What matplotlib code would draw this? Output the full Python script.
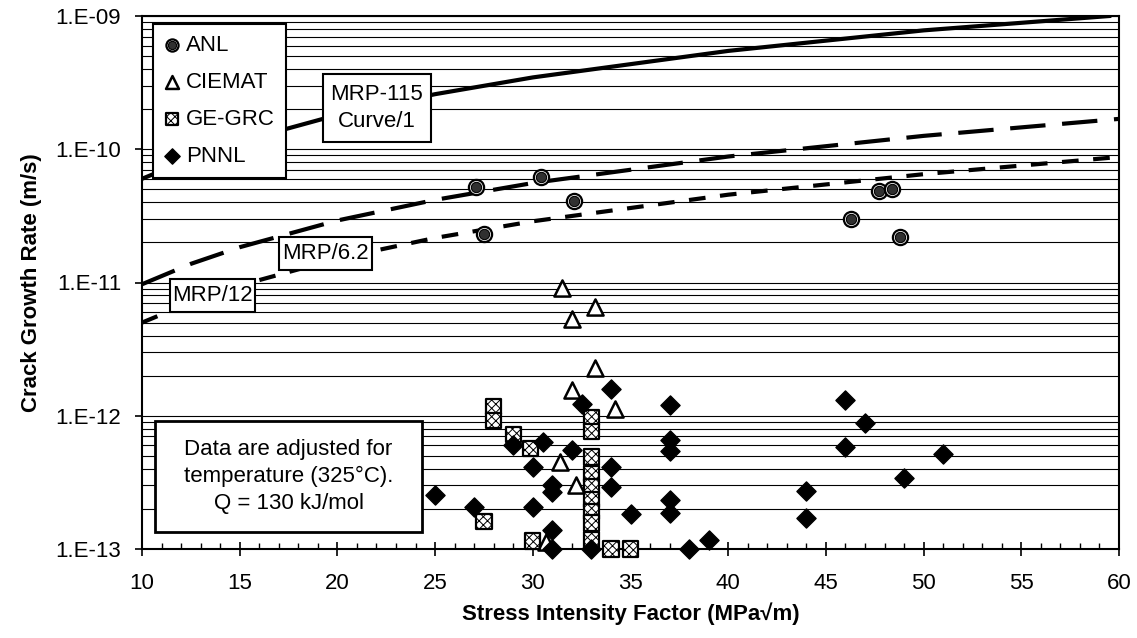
import numpy as np
import matplotlib.pyplot as plt
from matplotlib.patches import Rectangle
from matplotlib.legend_handler import HandlerTuple
from matplotlib.ticker import LogLocator, MultipleLocator, FuncFormatter, NullFormatter

plt.rcParams['font.family'] = ['Liberation Sans', 'DejaVu Sans']
plt.rcParams['hatch.linewidth'] = 0.7

# data points: stress intensity factor K (MPa√m) and crack growth rate (m/s)
anl_k = [27.1, 27.5, 30.4, 32.1, 46.3, 47.7, 48.4, 48.8]
anl_v = [5.2e-11, 2.3e-11, 6.2e-11, 4.1e-11, 3.0e-11, 4.9e-11, 5.0e-11, 2.2e-11]

ciemat_k = [31.5, 33.2, 32.0, 33.2, 32.0, 34.2, 31.4, 32.2, 30.7]
ciemat_v = [9.1e-12, 6.6e-12, 5.3e-12, 2.3e-12, 1.56e-12, 1.13e-12, 4.5e-13, 3.0e-13, 1.13e-13]

ge_k = [28.0, 28.0, 29.0, 29.9, 27.5, 30.0, 33.0, 33.0, 33.0, 33.0, 33.0,
        33.0, 33.0, 33.0, 33.0, 34.0, 35.0]
ge_v = [1.17e-12, 9.2e-13, 7.2e-13, 5.7e-13, 1.6e-13, 1.15e-13, 9.7e-13, 7.6e-13,
        4.9e-13, 3.7e-13, 2.94e-13, 2.36e-13, 1.91e-13, 1.57e-13, 1.17e-13, 1.0e-13, 1.0e-13]

pnnl_k = [25.0, 27.0, 29.0, 30.0, 30.0, 30.5, 31.0, 31.0, 31.0, 31.0, 32.0, 32.5,
          33.0, 34.0, 34.0, 34.0, 35.0, 37.0, 37.0, 37.0, 37.0, 37.0, 38.0, 39.0,
          44.0, 44.0, 46.0, 46.0, 47.0, 49.0, 51.0]
pnnl_v = [2.54e-13, 2.07e-13, 6.0e-13, 4.15e-13, 2.07e-13, 6.4e-13, 3.0e-13, 2.7e-13,
          1.39e-13, 1.0e-13, 5.5e-13, 1.22e-12, 1.0e-13, 1.58e-12, 4.15e-13, 2.94e-13,
          1.83e-13, 1.2e-12, 6.6e-13, 5.4e-13, 2.33e-13, 1.85e-13, 1.0e-13, 1.17e-13,
          2.71e-13, 1.72e-13, 1.31e-12, 5.86e-13, 8.77e-13, 3.43e-13, 5.16e-13]

# disposition curves
curve_k = [10, 12.5, 15, 20, 25, 30, 40, 50, 60]
mrp115_k = [10, 12.5, 15, 20, 25, 30, 40, 50, 59.5]
mrp115_v = [6.0e-11, 8.5e-11, 1.14e-10, 1.81e-10, 2.59e-10, 3.46e-10, 5.47e-10, 7.8e-10, 1.0e-9]
mrp62_v = [9.7e-12, 1.38e-11, 1.84e-11, 2.92e-11, 4.17e-11, 5.58e-11, 8.82e-11, 1.26e-10, 1.69e-10]
mrp12_v = [5.0e-12, 7.1e-12, 9.5e-12, 1.51e-11, 2.16e-11, 2.88e-11, 4.56e-11, 6.5e-11, 8.75e-11]

fig = plt.figure(figsize=(11.37, 6.38), dpi=100)
ax = fig.add_axes([142/1137, 1-549/638, 977/1137, 533/638])
ax.set_xlim(10, 60)
ax.set_yscale('log')
ax.set_ylim(1e-13, 1e-9)

# axes / ticks
ax.yaxis.set_major_locator(LogLocator(base=10, numticks=10))
ax.yaxis.set_minor_locator(LogLocator(base=10, subs=np.arange(2, 10), numticks=10))
ax.yaxis.set_minor_formatter(NullFormatter())
ax.yaxis.set_major_formatter(FuncFormatter(lambda v, p: '1.E-%02d' % round(-np.log10(v))))
ax.grid(True, which='both', axis='y', color='black', lw=0.8)
ax.set_axisbelow(True)
ax.tick_params(axis='y', which='minor', length=0)
ax.tick_params(axis='y', which='major', direction='out', length=5, width=1.2, pad=10, labelsize=16)
ax.xaxis.set_major_locator(MultipleLocator(5))
ax.xaxis.set_minor_locator(MultipleLocator(1))
ax.tick_params(axis='x', which='major', direction='inout', length=10, width=1.2, pad=12, labelsize=16)
ax.tick_params(axis='x', which='minor', direction='in', length=4, width=1)
for s in ax.spines.values():
    s.set_linewidth(1.5)

ax.set_xlabel('Stress Intensity Factor (MPa\u221am)', fontsize=16, fontweight='bold', labelpad=6)
ax.set_ylabel('Crack Growth Rate (m/s)', fontsize=16, fontweight='bold', labelpad=10)

# curves
ax.plot(mrp115_k, mrp115_v, color='black', lw=3, zorder=2)
ax.plot(curve_k, mrp62_v, color='black', lw=3, dashes=(8.5, 4), zorder=2)
ax.plot(curve_k, mrp12_v, color='black', lw=3, dashes=(4, 3.5), zorder=2)

# text boxes (pixel positions of the reference)
def box(x0, y0, x1, y1, text, lw=1.5):
    ax.add_patch(Rectangle(((x0-142)/977, (549-y1)/533), (x1-x0)/977, (y1-y0)/533,
                           transform=ax.transAxes, fc='white', ec='black', lw=lw,
                           zorder=3, clip_on=False))
    ax.text(((x0+x1)/2-142)/977, (549-(y0+y1)/2)/533, text, transform=ax.transAxes,
            ha='center', va='center', fontsize=16, linespacing=1.4, zorder=4)

box(323, 74, 431, 142, 'MRP-115\nCurve/1')
box(279, 237, 372, 270, 'MRP/6.2')
box(170, 279, 255, 312, 'MRP/12')
box(155, 421, 422, 532, 'Data are adjusted for\ntemperature (325\u00b0C).\nQ = 130 kJ/mol', lw=2)

# data
anl_out = ax.scatter(anl_k, anl_v, s=120, marker='o', fc='white', ec='black', lw=1.6, zorder=5, clip_on=False)
anl_in = ax.scatter(anl_k, anl_v, s=55, marker='o', fc='#303030', ec='black', lw=0.8, zorder=5, clip_on=False)
ciemat = ax.scatter(ciemat_k, ciemat_v, s=135, marker='^', fc='white', ec='black', lw=1.8, zorder=5, clip_on=False)
ge = ax.scatter(ge_k, ge_v, s=120, marker='s', fc='white', ec='black', lw=1.6, hatch='xxxx', zorder=5, clip_on=False)
pnnl = ax.scatter(pnnl_k, pnnl_v, s=95, marker='D', fc='black', ec='black', lw=1, zorder=5, clip_on=False)

leg = ax.legend([(anl_out, anl_in), ciemat, ge, pnnl], ['ANL', 'CIEMAT', 'GE-GRC', 'PNNL'],
                loc='upper left', bbox_to_anchor=((153-142)/977, (549-24)/533), borderaxespad=0,
                fancybox=False, framealpha=1, edgecolor='black', fontsize=16,
                handlelength=0.7, handletextpad=0.3, labelspacing=0.72, borderpad=0.5,
                markerscale=0.8, scatterpoints=1, handler_map={tuple: HandlerTuple(ndivide=1)})
leg.get_frame().set_linewidth(1.5)
leg.set_zorder(6)

fig.savefig('out.png', dpi=100)
